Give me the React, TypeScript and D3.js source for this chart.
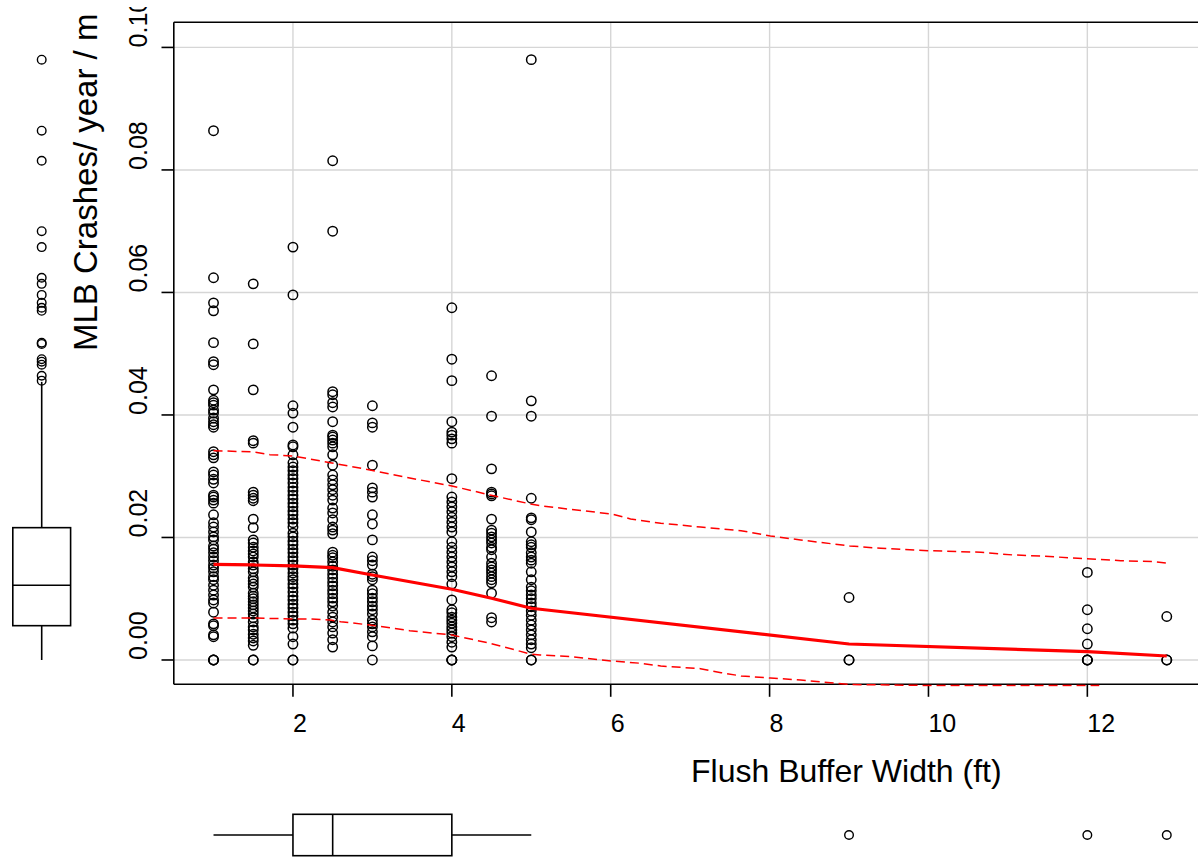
import React from 'react';
import * as d3 from 'd3';

// ---- data ----
const widthValues = [1, 1.5, 2, 2.5, 3, 4, 4.5, 5, 9, 12, 13];

const crashesAt1 = [0.0864, 0.0624, 0.0583, 0.057, 0.0518, 0.0487, 0.0482, 0.0441, 0.0424, 0.042, 0.0416, 0.0408, 0.0403, 0.0395, 0.0389, 0.0384, 0.038, 0.034, 0.0335, 0.033, 0.0307, 0.0302, 0.0295, 0.0289, 0.0269, 0.0266, 0.0261, 0.0256, 0.0237, 0.0224, 0.0217, 0.0209, 0.0201, 0.0196, 0.0186, 0.0181, 0.0175, 0.0168, 0.0162, 0.0155, 0.015, 0.0144, 0.0136, 0.0131, 0.0122, 0.0114, 0.0106, 0.0098, 0.0093, 0.0078, 0.0059, 0.0056, 0.0041, 0.0038, 0, 0, 0];
const crashesAt1_5 = [0.0614, 0.0516, 0.0441, 0.0358, 0.0354, 0.0274, 0.0269, 0.0264, 0.026, 0.023, 0.0216, 0.0196, 0.0191, 0.0184, 0.0178, 0.0173, 0.0168, 0.016, 0.0155, 0.0149, 0.0144, 0.0134, 0.0129, 0.0124, 0.0119, 0.0109, 0.0104, 0.01, 0.0095, 0.009, 0.0085, 0.008, 0.0075, 0.0069, 0.0062, 0.0054, 0.0049, 0.0042, 0.0036, 0.0031, 0.0024, 0, 0];
const crashesAt2 = [0.0674, 0.0596, 0.0415, 0.0403, 0.038, 0.0351, 0.0348, 0.0335, 0.0322, 0.0315, 0.0309, 0.0302, 0.0296, 0.0289, 0.0282, 0.0276, 0.0269, 0.0263, 0.0256, 0.025, 0.0243, 0.0237, 0.023, 0.0224, 0.0217, 0.0207, 0.0201, 0.0194, 0.0188, 0.0181, 0.0175, 0.0168, 0.0162, 0.0155, 0.0149, 0.0142, 0.0136, 0.0131, 0.0124, 0.0118, 0.0111, 0.0104, 0.0098, 0.0091, 0.0085, 0.0078, 0.0072, 0.0065, 0.0059, 0.0052, 0.0038, 0.0026, 0, 0];
const crashesAt2_5 = [0.0815, 0.07, 0.0438, 0.0433, 0.042, 0.0413, 0.0389, 0.0367, 0.0364, 0.0359, 0.0354, 0.0348, 0.0335, 0.0318, 0.0302, 0.0294, 0.0286, 0.0278, 0.0269, 0.0261, 0.0248, 0.024, 0.0229, 0.0217, 0.0212, 0.0206, 0.0176, 0.0171, 0.0167, 0.016, 0.0153, 0.0147, 0.014, 0.0134, 0.0127, 0.0121, 0.0114, 0.0108, 0.0101, 0.0095, 0.0088, 0.0078, 0.007, 0.0062, 0.0054, 0.0044, 0.0033, 0.0021];
const crashesAt3 = [0.0415, 0.0387, 0.038, 0.0318, 0.0281, 0.0274, 0.0266, 0.0237, 0.0222, 0.0196, 0.0168, 0.0162, 0.0155, 0.014, 0.0136, 0.0131, 0.0114, 0.0108, 0.0101, 0.0095, 0.0088, 0.0082, 0.0075, 0.0065, 0.0059, 0.0054, 0.0046, 0.0038, 0.0023, 0];
const crashesAt4 = [0.0575, 0.0491, 0.0456, 0.0389, 0.0372, 0.0367, 0.0361, 0.0354, 0.0296, 0.0266, 0.0258, 0.025, 0.0242, 0.0233, 0.0225, 0.0217, 0.0209, 0.0193, 0.0184, 0.0176, 0.0168, 0.016, 0.0152, 0.0144, 0.0136, 0.0124, 0.0098, 0.0082, 0.0077, 0.007, 0.0065, 0.006, 0.0054, 0.0049, 0.0044, 0.0038, 0.0029, 0.0021, 0, 0, 0];
const crashesAt4_5 = [0.0464, 0.0398, 0.0312, 0.0274, 0.0271, 0.0268, 0.023, 0.0212, 0.0207, 0.0201, 0.0196, 0.0191, 0.0184, 0.018, 0.0168, 0.0158, 0.0152, 0.0147, 0.0142, 0.0136, 0.0131, 0.0126, 0.0109, 0.0069, 0.0062];
const crashesAt5 = [0.098, 0.0423, 0.0398, 0.0264, 0.0232, 0.0229, 0.0209, 0.0193, 0.0188, 0.0184, 0.0175, 0.0168, 0.0163, 0.0158, 0.0144, 0.0131, 0.0119, 0.0113, 0.0106, 0.01, 0.0093, 0.0087, 0.008, 0.0073, 0.0065, 0.0057, 0.0049, 0.0041, 0.0033, 0.0026, 0.002, 0, 0];
const crashesAt9 = [0.0102, 0, 0];
const crashesAt12 = [0.0143, 0.0082, 0.0051, 0.0026, 0, 0, 0];
const crashesAt13 = [0.0071, 0, 0];

const crashesByWidth = [crashesAt1, crashesAt1_5, crashesAt2, crashesAt2_5, crashesAt3, crashesAt4, crashesAt4_5, crashesAt5, crashesAt9, crashesAt12, crashesAt13];

// smoother (solid) evaluated at the unique widths
const smoothFit = [0.01562, 0.01551, 0.01535, 0.01507, 0.01388, 0.01154, 0.01007, 0.00844, 0.00261, 0.00136, 0.00065];

// spread bands (dashed)
const upperBandX = [1, 1.5, 1.71, 2, 2.47, 2.97, 3.47, 4, 4.48, 4.99, 5.11, 5.49, 6.01, 6.25, 6.63, 7.13, 7.64, 8.01, 8.39, 9.01, 9.4, 10.0, 10.66, 11.07, 11.41, 11.88, 12.42, 12.83, 13.02];
const upperBandY = [0.03417, 0.03396, 0.03352, 0.03331, 0.03221, 0.03102, 0.02971, 0.02841, 0.02694, 0.02547, 0.02519, 0.0246, 0.02384, 0.02302, 0.02232, 0.02171, 0.02111, 0.02024, 0.01959, 0.01861, 0.01824, 0.01784, 0.01758, 0.01714, 0.01698, 0.0166, 0.01621, 0.01605, 0.01579];
const lowerBandX = [1, 1.5, 2, 2.2, 2.47, 2.6, 2.97, 3.47, 4, 4.48, 4.99, 5.11, 5.49, 6.01, 6.38, 6.63, 7.13, 7.39, 7.64, 8.01, 8.39, 9.01, 10, 11, 12.15];
const lowerBandY = [0.00686, 0.00686, 0.00669, 0.00669, 0.00653, 0.00625, 0.00571, 0.00478, 0.00408, 0.00273, 0.00098, 0.00082, 0.00054, -0.00016, -0.00054, -0.00098, -0.00142, -0.00207, -0.00261, -0.00294, -0.00327, -0.004, -0.00416, -0.00416, -0.00416];

// marginal boxplot statistics [lower whisker, Q1, median, Q3, upper whisker]
const crashBoxStats = [0, 0.0056, 0.0122, 0.0216, 0.0454];
const widthBoxStats = [1, 2, 2.5, 4, 5];

const xTicks = [2, 4, 6, 8, 10, 12];
const xTickLabels = ['2', '4', '6', '8', '10', '12'];
const yTicks = [0, 0.02, 0.04, 0.06, 0.08, 0.1];
const yTickLabels = ['0.00', '0.02', '0.04', '0.06', '0.08', '0.10'];

const xTitle = 'Flush Buffer Width (ft)';
const yTitle = 'MLB Crashes/ year / mile';

export default function App() {
  const W = 1198;
  const H = 857;
  const plot = { left: 173.8, right: 1206.5, top: 22.3, bottom: 684.3 };
  const x = d3.scaleLinear().domain([0.5, 13.5]).range([plot.left, plot.right]);
  const y = d3.scaleLinear().domain([-0.00397, 0.1041]).range([plot.bottom, plot.top]);

  const points: { w: number; c: number }[] = [];
  crashesByWidth.forEach((arr, i) => arr.forEach((c) => points.push({ w: widthValues[i], c })));

  const line = d3
    .line<[number, number]>()
    .x((d) => x(d[0]))
    .y((d) => y(d[1]));

  const smoothPath = line(widthValues.map((w, i) => [w, smoothFit[i]] as [number, number]));
  const upperPath = line(upperBandX.map((w, i) => [w, upperBandY[i]] as [number, number]));
  const lowerPath = line(lowerBandX.map((w, i) => [w, lowerBandY[i]] as [number, number]));

  const font = "'Liberation Sans', Arial, Helvetica, sans-serif";
  const r = 4.7;
  const sw = 1.5;

  // left boxplot (crash rate)
  const lbCx = 41.7;
  const lbHalf = 28.9;
  const [cLo, cQ1, cMed, cQ3, cHi] = crashBoxStats;
  const crashOutliers = points.filter((p) => p.c > cHi || p.c < cLo);

  // bottom boxplot (width)
  const bbCy = 835;
  const bbHalf = 20.7;
  const [wLo, wQ1, wMed, wQ3, wHi] = widthBoxStats;
  const widthOutliers = Array.from(new Set(points.filter((p) => p.w > wHi || p.w < wLo).map((p) => p.w)));

  return (
    <svg
      width={W}
      height={H}
      style={{ position: 'absolute', left: 0, top: 0, background: '#fff', display: 'block' }}
      fontFamily={font}
    >
      <defs>
        <clipPath id="plotClip">
          <rect x={plot.left} y={plot.top} width={plot.right - plot.left} height={plot.bottom - plot.top + 2.5} />
        </clipPath>
        <clipPath id="pageClip">
          <rect x={0} y={7} width={W} height={H - 7} />
        </clipPath>
        <clipPath id="titleClip">
          <rect x={0} y={12} width={W} height={H - 12} />
        </clipPath>
      </defs>
      <rect x={0} y={0} width={W} height={H} fill="#fff" />
      <g clipPath="url(#pageClip)">
        {/* grid */}
        <g stroke="#d6d6d6" strokeWidth={1.4}>
          {xTicks.map((t) => (
            <line key={'gx' + t} x1={x(t)} x2={x(t)} y1={plot.top} y2={plot.bottom} />
          ))}
          {yTicks.map((t) => (
            <line key={'gy' + t} x1={plot.left} x2={plot.right} y1={y(t)} y2={y(t)} />
          ))}
        </g>

        {/* points */}
        <g fill="none" stroke="#000" strokeWidth={sw}>
          {points.map((p, i) => (
            <circle key={i} cx={x(p.w)} cy={y(p.c)} r={r} />
          ))}
        </g>

        {/* axes box */}
        <g stroke="#000" strokeWidth={1.6} fill="none">
          <line x1={plot.left} x2={plot.right} y1={plot.top} y2={plot.top} />
          <line x1={plot.left} x2={plot.right} y1={plot.bottom} y2={plot.bottom} />
          <line x1={plot.left} x2={plot.left} y1={plot.top} y2={plot.bottom} />
          {xTicks.map((t) => (
            <line key={'tx' + t} x1={x(t)} x2={x(t)} y1={plot.bottom} y2={plot.bottom + 12.5} />
          ))}
          {yTicks.map((t) => (
            <line key={'ty' + t} x1={plot.left - 12.3} x2={plot.left} y1={y(t)} y2={y(t)} />
          ))}
        </g>

        {/* smoother lines */}
        <g clipPath="url(#plotClip)" fill="none" stroke="#ff0000">
          <path d={upperPath || ''} strokeWidth={1.5} strokeDasharray="9,5" />
          <path d={lowerPath || ''} strokeWidth={1.5} strokeDasharray="9,5" />
          <path d={smoothPath || ''} strokeWidth={3.2} strokeLinejoin="round" />
        </g>

        {/* tick labels */}
        <g fontSize={25} fill="#000">
          {xTicks.map((t, i) => (
            <text key={'lx' + t} x={x(t)} y={732} textAnchor="start">
              {xTickLabels[i]}
            </text>
          ))}
          {yTicks.map((t, i) => (
            <text
              key={'ly' + t}
              x={147}
              y={y(t)}
              textAnchor="start"
              transform={`rotate(-90, 147, ${y(t)})`}
            >
              {yTickLabels[i]}
            </text>
          ))}
        </g>

        {/* axis titles */}
        <text x={691} y={782} fontSize={32} textAnchor="start" fill="#000">
          {xTitle}
        </text>
        <g clipPath="url(#titleClip)">
          <text x={97} y={351} fontSize={33} textAnchor="start" fill="#000" transform="rotate(-90, 97, 351)">
            {yTitle}
          </text>
        </g>

        {/* left marginal boxplot */}
        <g stroke="#000" strokeWidth={1.6} fill="none">
          <line x1={lbCx} x2={lbCx} y1={y(cQ3)} y2={y(cHi)} />
          <line x1={lbCx} x2={lbCx} y1={y(cQ1)} y2={y(cLo)} />
          <rect x={lbCx - lbHalf} y={y(cQ3)} width={2 * lbHalf} height={y(cQ1) - y(cQ3)} />
          <line x1={lbCx - lbHalf} x2={lbCx + lbHalf} y1={y(cMed)} y2={y(cMed)} />
        </g>
        <g fill="none" stroke="#000" strokeWidth={1.4}>
          {crashOutliers.map((p, i) => (
            <circle key={'lo' + i} cx={lbCx} cy={y(p.c)} r={4.3} />
          ))}
        </g>

        {/* bottom marginal boxplot */}
        <g stroke="#000" strokeWidth={1.6} fill="none">
          <line x1={x(wLo)} x2={x(wQ1)} y1={bbCy} y2={bbCy} />
          <line x1={x(wQ3)} x2={x(wHi)} y1={bbCy} y2={bbCy} />
          <rect x={x(wQ1)} y={bbCy - bbHalf} width={x(wQ3) - x(wQ1)} height={2 * bbHalf} />
          <line x1={x(wMed)} x2={x(wMed)} y1={bbCy - bbHalf} y2={bbCy + bbHalf} />
        </g>
        <g fill="none" stroke="#000" strokeWidth={1.4}>
          {widthOutliers.map((w, i) => (
            <circle key={'bo' + i} cx={x(w)} cy={bbCy} r={4.3} />
          ))}
        </g>
      </g>
    </svg>
  );
}
